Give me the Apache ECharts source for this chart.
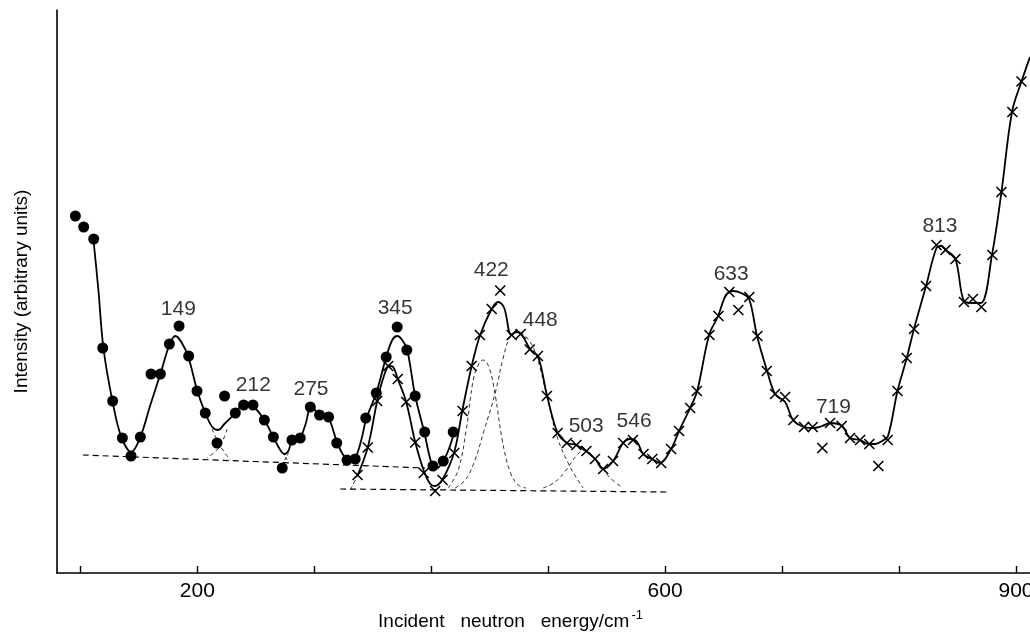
<!DOCTYPE html>
<html>
<head>
<meta charset="utf-8">
<script src="https://cdn.jsdelivr.net/npm/echarts@6/dist/echarts.min.js"></script>
<style>
  html, body { margin: 0; padding: 0; background: #fff; }
  #chart { width: 1030px; height: 634px; }
</style>
</head>
<body>
<div id="chart"></div>
<script>
// incident energy (cm-1) vs intensity (arbitrary units)
var dotMarks = [[95.7,357],[102.8,346],[111.4,334],[119.1,225],[127.6,172],[135.9,135],[143.3,117],[151.3,136],[160.4,199],[168.4,199],[176.1,229],[184.4,247],[192.6,217],[199.7,182],[206.8,160],[216.8,130],[223.3,177],[232.5,160],[239.6,168],[247.6,168],[257.3,153],[265,136],[272.6,105],[280.9,133],[288,135],[296.6,166],[304.5,158],[312.2,156],[319.2,130],[328,113],[335,114],[344,155],[353,180],[361.5,216],[370.9,246],[379.1,223],[386.3,177],[394.4,141],[401.5,107],[410.3,112],[418.8,141]];

var dotCurve = [[111.1,334],[115.4,283],[119.7,225],[127.4,172],[135,136],[143.6,121],[151.3,136],[159.8,168],[168.4,199],[176.1,228],[181.2,237],[186.3,231],[192.3,216],[200,182],[206.8,160],[212.8,146],[217.9,143],[223.1,149],[232.5,160],[237.6,168],[242.7,170],[247.9,167],[257.3,153],[265,136],[270.9,123],[274.4,119],[277.8,122],[281.2,133],[288,136],[292.3,148],[297.4,166],[304.3,159],[312,155],[318.8,133],[324.8,118],[330.8,113],[335,115],[340.2,133],[344.4,154],[353,180],[361.5,216],[366.7,233],[370.9,237],[375.2,233],[379.5,223],[386.3,177],[394,141],[398.3,118],[401.7,106],[405.1,105],[410.3,112],[415.4,125],[419.7,141]];

var crossMarks = [[337,98],[345.7,125.5],[353.8,172],[363.2,207],[371.4,194],[378.6,171],[386.3,130.5],[393.6,100],[403.4,82],[409.7,93],[419.7,120],[426.8,162],[434.6,207],[441.6,238],[451.7,264],[459,282.5],[468.8,238],[476.5,239],[484.2,223.5],[491.2,217],[498.9,177],[508.1,140],[516,130],[524.1,128],[532.7,122],[540,114],[547,104],[555.4,112],[564.1,130],[572.5,133],[581.5,119],[589,114],[596.6,110],[605.1,124],[611.9,142],[621.4,165],[627.1,182],[637.9,238],[645.6,257],[654.9,281],[662.6,263],[672,276],[678.9,237],[686.9,202],[694,179],[702.6,176],[709.7,153],[718.8,146],[726.2,146],[734.4,125],[741,150],[751,147],[758.1,135],[766.7,133],[774.6,129],[782.3,107],[790.3,133],[798.7,182],[806.6,215],[812.8,244],[823.1,287],[832,328],[839.7,323],[848.3,314],[855.5,271],[863.2,274],[870.4,266],[879.8,318],[887.6,381],[896.9,461],[904.7,491.5]];

var crossCurve = [[336.8,97],[345.7,125.5],[353.8,172],[359,195],[364.1,207],[367.5,206],[371.4,194],[378.6,171],[386.3,131],[394,101],[399.1,89],[403,87],[409.4,93],[419.7,121],[426.5,162],[434.6,207],[441.8,238],[451.7,264],[457.3,271],[462.4,265],[468.4,238],[472.6,241],[476.9,239],[484.6,224],[491.5,216],[499.1,177],[508.1,140],[516,130],[523.9,128],[532.5,122],[540.2,114],[547,104],[555.6,112],[564.1,130],[570.1,134],[576.1,131],[581.2,119],[588.9,114],[595.7,110],[605.1,124],[611.9,142],[621.4,165],[627.4,182],[637.6,238],[645.3,257],[652.1,278],[658.1,282],[665,280],[671.8,274],[678.6,237],[687.2,202],[694,179],[702.6,171],[709.4,153],[718.8,146],[726.5,145],[734.2,147],[741,150],[751.3,147],[758.1,135],[766.7,133],[774.4,129],[779.5,129],[785.5,132],[790.6,137],[798.7,182],[806.6,215],[812.8,244],[823.1,287],[832,325],[836.4,327],[840.1,323],[848.2,314],[855.5,272],[862.4,270],[870.1,270],[879.5,318],[887.6,381],[896.6,461],[904.7,491.5],[912,516]];

var dotBaseline = [[102.1,118],[394.9,105]];
var crossBaseline = [[322.2,84],[602.6,81]];

// fitted components and tails (thin dashed)
var tail212a = [[212.5,144],[219.6,127],[228.2,113]];
var tail212b = [[225.4,144],[218.8,126],[208.3,115]];
var tail275a = [[273.2,120],[278,111]];
var tail275b = [[278,120],[273.8,111]];
var tail345 = [[330.8,83],[336.8,97]];
var comp422 = [[414.5,85],[423.1,103],[429.9,143],[435.9,193],[440.2,208],[444.4,213],[449.6,205],[454.7,178],[460.7,133],[467.5,101],[474.4,88],[481.2,85]];
var comp448 = [[420.5,85],[429.1,93],[436.8,111],[445.3,143],[454.7,180],[461.5,215],[467.5,236],[474.4,241],[481.2,236],[488.9,221],[499.1,176],[507.7,136],[518.8,106],[529.9,85]];
var comp503 = [[495.7,85],[506,91],[515.4,103],[523.9,117],[530.8,123],[537.6,118],[544.4,108],[553,95],[564.1,85]];

var peakNames = ['149', '212', '275', '345', '422', '448', '503', '546', '633', '719', '813'];
var peakX = [183.8, 247.9, 297.2, 369.2, 451.3, 493.2, 532.5, 573.5, 656.5, 743.9, 835];
var peakY = [264, 188, 184, 265, 303, 253, 147, 152, 299, 166, 347];

var tickValues = [100, 200, 300, 400, 500, 600, 700, 800, 900];
var labelValues = [200, 600, 900];

var ink = '#000';
var font = '"Liberation Sans", sans-serif';

function solid(data) {
  return { type: 'line', data: data, smooth: 0.35, symbol: 'none', silent: true,
    lineStyle: { color: ink, width: 1.8 } };
}
function dashed(data, w, dash) {
  return { type: 'line', data: data, smooth: 0.4, symbol: 'none', silent: true,
    lineStyle: { color: ink, width: w, type: dash } };
}

var chart = echarts.init(document.getElementById('chart'), null, { renderer: 'canvas' });
chart.setOption({
  animation: false,
  backgroundColor: '#fff',
  grid: { left: 57, right: 0, top: 10, bottom: 61, containLabel: false, outerBoundsMode: 'none' },
  xAxis: {
    type: 'value',
    min: 80,
    max: 912,
    name: 'Incident   neutron   energy/cm{s|-1}',
    nameLocation: 'middle',
    nameGap: 36,
    nameTextStyle: {
      color: ink, fontFamily: font, fontSize: 19, padding: [0, 66, 0, 0],
      rich: { s: { fontSize: 13, fontFamily: font, color: ink, padding: [0, 0, 12, 2] } }
    },
    axisLine: { show: true, lineStyle: { color: ink, width: 1.6 } },
    axisTick: { show: true, inside: true, length: 7, customValues: tickValues, lineStyle: { color: ink, width: 1.4 } },
    axisLabel: { customValues: labelValues, color: ink, fontFamily: font, fontSize: 21, margin: 8 },
    splitLine: { show: false }
  },
  yAxis: {
    type: 'value',
    min: 0,
    max: 563,
    name: 'Intensity (arbitrary units)',
    nameLocation: 'middle',
    nameRotate: 90,
    nameGap: 26,
    nameTextStyle: { color: ink, fontFamily: font, fontSize: 19 },
    axisLine: { show: true, lineStyle: { color: ink, width: 1.6 } },
    axisTick: { show: false },
    axisLabel: { show: false },
    splitLine: { show: false }
  },
  series: [
    solid(dotCurve),
    solid(crossCurve),
    dashed(dotBaseline, 1.2, [6, 4]),
    dashed(crossBaseline, 1.2, [6, 4]),
    dashed(tail212a, 0.8, [4, 3]),
    dashed(tail212b, 0.8, [4, 3]),
    dashed(tail275a, 0.8, [3, 2]),
    dashed(tail275b, 0.8, [3, 2]),
    dashed(tail345, 0.8, [4, 3]),
    dashed(comp422, 0.8, [4, 3]),
    dashed(comp448, 0.8, [4, 3]),
    dashed(comp503, 0.8, [4, 3]),
    {
      type: 'scatter',
      data: dotMarks,
      symbol: 'circle',
      symbolSize: 11,
      silent: true,
      itemStyle: { color: ink, opacity: 1 }
    },
    {
      type: 'scatter',
      data: crossMarks,
      symbol: 'path://M0,0L10,10M10,0L0,10',
      symbolSize: 10,
      silent: true,
      itemStyle: { color: 'rgba(0,0,0,0)', borderColor: ink, borderWidth: 1.6, opacity: 1 }
    },
    {
      type: 'scatter',
      data: peakNames.map(function(n, i) { return { name: n, value: [peakX[i], peakY[i]] }; }),
      symbolSize: 1,
      silent: true,
      itemStyle: { color: 'rgba(0,0,0,0)' },
      label: { show: true, position: 'inside', formatter: '{b}', color: ink, fontFamily: font, fontSize: 21 }
    }
  ]
});
</script>
</body>
</html>
